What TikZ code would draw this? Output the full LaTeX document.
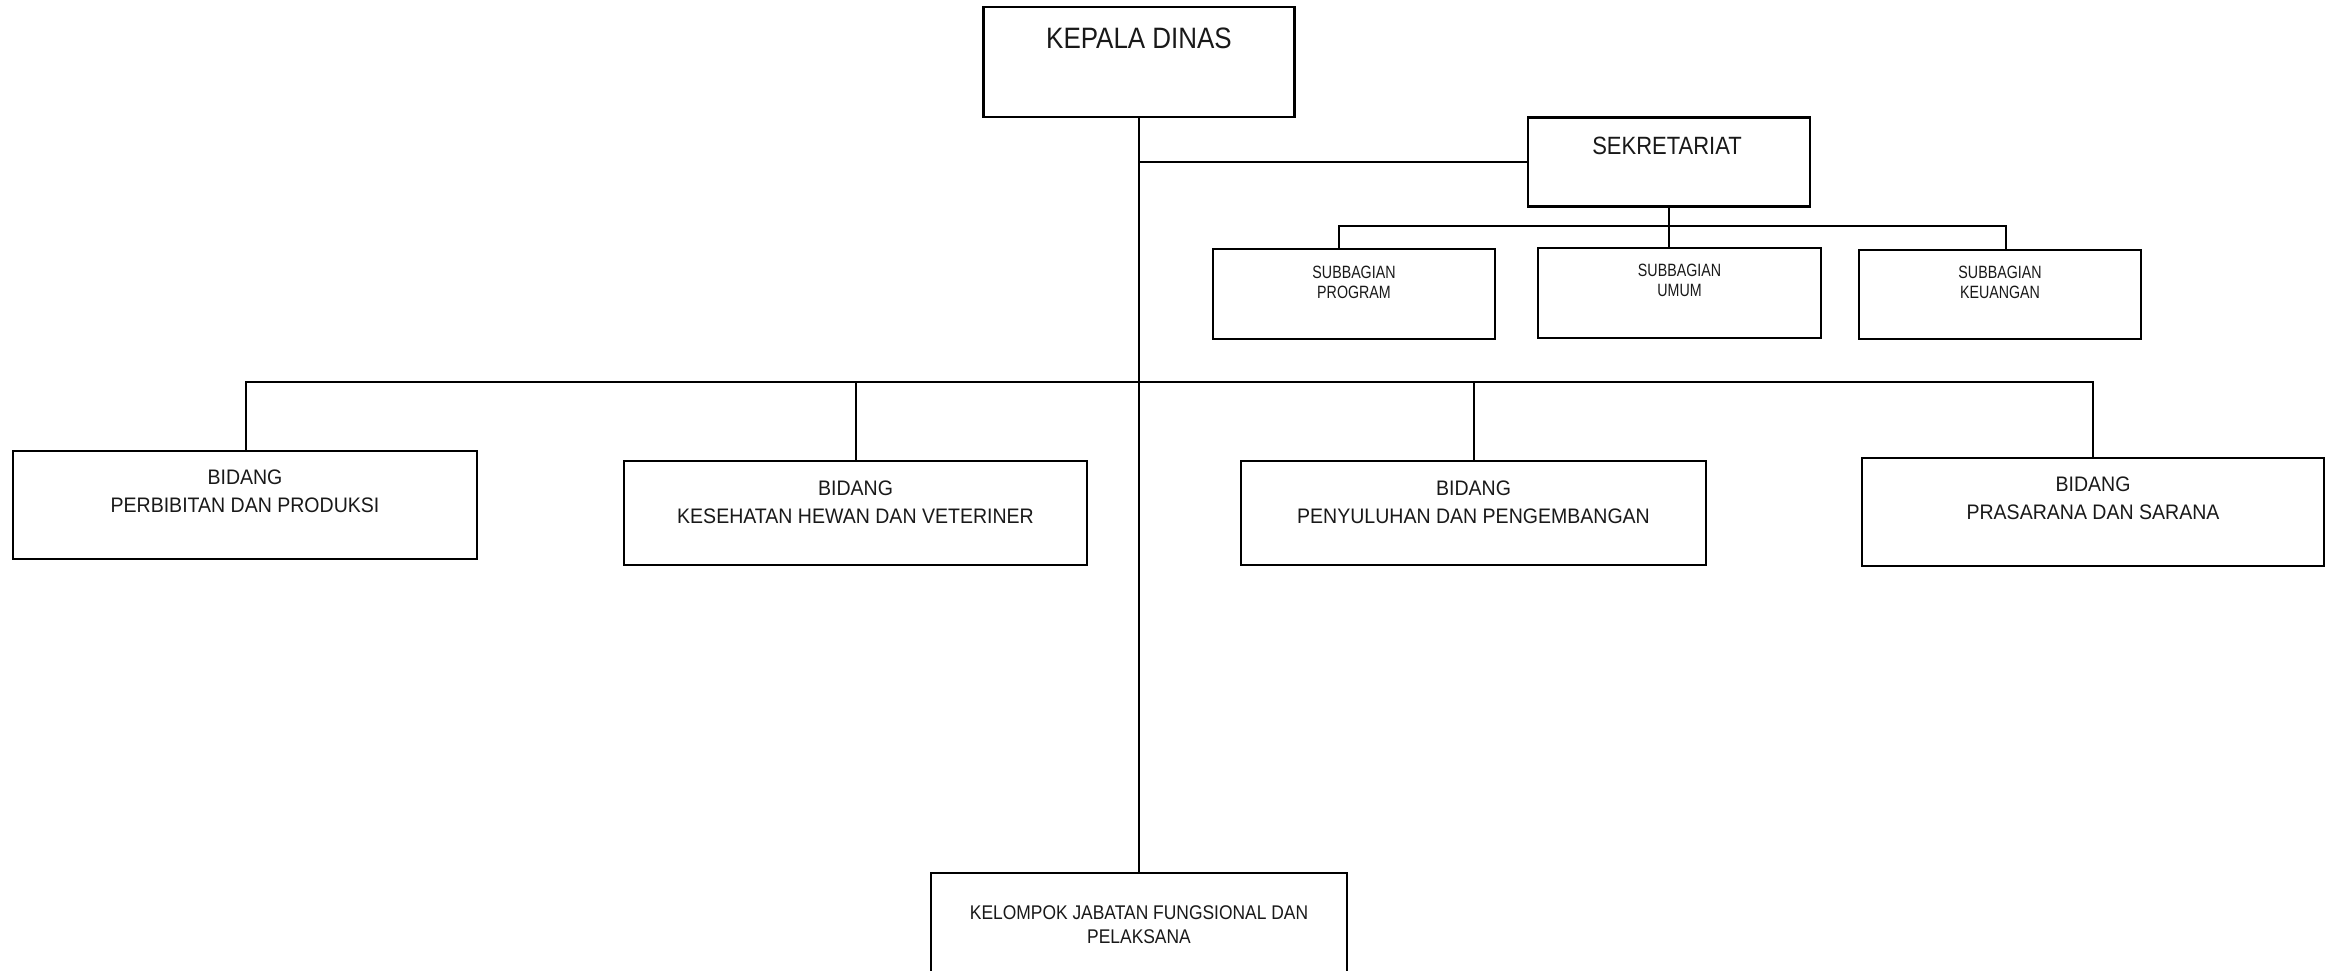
\documentclass[tikz,border=0pt]{standalone}
\usepackage{fontspec}
\setmainfont{Liberation Sans}
% slightly condensed faces of the same family
\newfontfamily\headface[FakeStretch=0.88]{Liberation Sans}
\newfontfamily\subface[FakeStretch=0.80]{Liberation Sans}
\newfontfamily\bidface[FakeStretch=0.93]{Liberation Sans}
\begin{document}
\begin{tikzpicture}[x=1pt,y=-1pt,
  unitbox/.style={draw=black, line width=2.5pt, rectangle, inner sep=0pt, fill=white},
  label/.style={inner sep=0pt, align=center, text=black!90},
  link/.style={draw=black, line width=2pt},
  headfont/.style={font=\headface\fontsize{29.5}{33}\selectfont},
  sekfont/.style={font=\headface\fontsize{25}{29}\selectfont},
  subfont/.style={font=\subface\fontsize{17.8}{20}\selectfont},
  bidfont/.style={font=\bidface\fontsize{21}{28}\selectfont},
  kelfont/.style={font=\headface\fontsize{19.8}{24}\selectfont}]
\useasboundingbox (0,0) rectangle (2325,971);
\clip (0,0) rectangle (2325,971);

% head of office
\node[unitbox, minimum width=311pt, minimum height=110pt] (kepala) at (1139,62) {};
\node[label, headfont] (kepalaT) at (1139,38) {KEPALA DINAS};

% secretariat and its sub-sections
\node[unitbox, minimum width=282pt, minimum height=89pt] (sek) at (1669,162) {};
\node[label, sekfont] (sekT) at (1667,146) {SEKRETARIAT};

\node[unitbox, minimum width=282pt, minimum height=90pt] (prog) at (1354,294) {};
\node[label, subfont] (progT) at (1354,282) {SUBBAGIAN\\PROGRAM};
\node[unitbox, minimum width=283pt, minimum height=90pt] (umum) at (1679.5,293) {};
\node[label, subfont] (umumT) at (1679.5,280.5) {SUBBAGIAN\\UMUM};
\node[unitbox, minimum width=282pt, minimum height=89pt] (keu) at (2000,294.5) {};
\node[label, subfont] (keuT) at (2000,282.5) {SUBBAGIAN\\KEUANGAN};

% divisions
\node[unitbox, minimum width=464pt, minimum height=108pt] (b1) at (245,505) {};
\node[label, bidfont] (b1T) at (245,491.5) {BIDANG\\PERBIBITAN DAN PRODUKSI};
\node[unitbox, minimum width=463pt, minimum height=104pt] (b2) at (855.5,513) {};
\node[label, bidfont] (b2T) at (855.5,502) {BIDANG\\KESEHATAN HEWAN DAN VETERINER};
\node[unitbox, minimum width=465pt, minimum height=104pt] (b3) at (1473.5,513) {};
\node[label, bidfont] (b3T) at (1473.5,502) {BIDANG\\PENYULUHAN DAN PENGEMBANGAN};
\node[unitbox, minimum width=462pt, minimum height=108pt] (b4) at (2093,512) {};
\node[label, bidfont] (b4T) at (2093,498) {BIDANG\\PRASARANA DAN SARANA};

% functional group
\node[unitbox, minimum width=416pt, minimum height=104pt] (kel) at (1139,925) {};
\node[label, kelfont] (kelT) at (1139,925) {KELOMPOK JABATAN FUNGSIONAL DAN\\PELAKSANA};

% bus junctions
\coordinate (sbus) at (1669,226);
\coordinate (mbus) at (1139,382);

% connectors
\draw[link] (kepala.south) -- (kel.north);
\draw[link] (kepala.south |- sek.west) -- (sek.west);
\draw[link] (sek.south) -- (sek.south |- umum.north);
\draw[link] ([xshift=-15pt]prog.north) |- (sbus) -| ([xshift=6pt]keu.north);
\draw[link] ([xshift=1pt]b1.north) |- (mbus) -| (b4.north);
\draw[link] (b2.north) -- (b2.north |- mbus);
\draw[link] (b3.north) -- (b3.north |- mbus);
\end{tikzpicture}
\end{document}
